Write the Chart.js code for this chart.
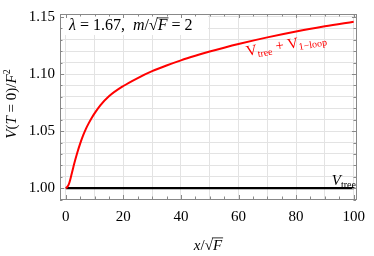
<!DOCTYPE html>
<html>
<head>
<meta charset="utf-8">
<script src="https://cdn.jsdelivr.net/npm/chart.js@4/dist/chart.umd.min.js"></script>
<style>
html,body{margin:0;padding:0;background:#fff;}
#wrap{width:374px;height:256px;}
</style>
</head>
<body>
<div id="wrap"><canvas id="c" width="374" height="256"></canvas></div>
<script>
// x / sqrt(F)
const xs = [0,0.5,1,1.5,2,2.5,3,4,5,6,7,8,9,10,12,15,20,25,30,35,40,45,50,55,60,70,80,90,100];
// V_tree + V_1-loop
const vLoop = [1.000,1.001,1.003,1.007,1.012,1.017,1.022,1.031,1.039,1.046,1.052,1.057,1.0615,1.0655,1.0725,1.0805,1.0895,1.0965,1.1025,1.1075,1.112,1.116,1.1197,1.1231,1.1263,1.1321,1.1373,1.1418,1.1458];
// V_tree
const xsTree = [0,100];
const vTree = [1.0,1.0];

const yTicks = [0.99,1.00,1.01,1.02,1.03,1.04,1.05,1.06,1.07,1.08,1.09,1.10,1.11,1.12,1.13,1.14,1.15];
const xTicks = [0,10,20,30,40,50,60,70,80,90,100];
const yLabels = [1.00,1.05,1.10,1.15];
const xLabels = [0,20,40,60,80,100];

const SERIF = '"Liberation Serif", "DejaVu Serif", serif';
const rm = '15px '+SERIF, it = 'italic 15px '+SERIF, sm = '10px '+SERIF;
const rmB = '16px '+SERIF, itB = 'italic 16px '+SERIF;

function drawRuns(ctx, parts, x, y, align){
  let w = 0;
  parts.forEach(p=>{ctx.font=p[1]; p.w=ctx.measureText(p[0]).width; w+=p.w;});
  let cx = align==='center' ? x-w/2 : (align==='right' ? x-w : x);
  ctx.textAlign='left'; ctx.textBaseline='alphabetic';
  parts.forEach(p=>{
    ctx.font=p[1];
    ctx.fillText(p[0], cx, y+(p[2]||0));
    if(p[3]){ ctx.fillRect(cx-1, y-12.5, p.w+2, 0.8); }
    cx+=p.w;
  });
}

const decor = {
  id:'decor',
  afterDraw(chart){
    const ctx=chart.ctx, a=chart.chartArea, xs_=chart.scales.x, ys_=chart.scales.y;
    ctx.save();
    // parameter box
    ctx.fillStyle='#fff';
    ctx.fillRect(a.left+1, 13, 147, 22);
    ctx.fillStyle='#000';
    drawRuns(ctx, [['λ',itB],[' = 1.67,  ',rmB],['m',itB],['/√',rmB],['F',itB,0,true],[' = 2',rmB]], a.left+9, 30, 'left');
    // frame
    ctx.strokeStyle='#888'; ctx.lineWidth=1;
    ctx.strokeRect(Math.round(a.left)+0.5, Math.round(a.top)+0.5, Math.round(a.right-a.left), Math.round(a.bottom-a.top));
    // inner ticks
    ctx.beginPath();
    for(let v=0; v<=100; v+=5){
      const px=Math.round(xs_.getPixelForValue(v))+0.5, L=(v%20===0)?4:2.5;
      ctx.moveTo(px,a.bottom); ctx.lineTo(px,a.bottom-L);
      ctx.moveTo(px,a.top); ctx.lineTo(px,a.top+L);
    }
    for(let i=99; i<=115; i++){
      const v=i/100, py=Math.round(ys_.getPixelForValue(v))+0.5, L=(i%5===0)?4:2.5;
      ctx.moveTo(a.left,py); ctx.lineTo(a.left+L,py);
      ctx.moveTo(a.right,py); ctx.lineTo(a.right-L,py);
    }
    ctx.stroke();
    // curve labels
    ctx.fillStyle='#f00';
    ctx.save();
    ctx.translate(247,56); ctx.rotate(-0.17);
    drawRuns(ctx, [['V',rm],['tree',sm,3],[' + ',rm],['V',rm],['1−loop',sm,3]], 0, 0, 'left');
    ctx.restore();
    ctx.fillStyle='#000';
    drawRuns(ctx, [['V',it],['tree',sm,3]], 356, 185, 'right');
    // axis titles
    drawRuns(ctx, [['x',it],['/√',rm],['F',it,0,true]], (a.left+a.right)/2, 250, 'center');
    ctx.save();
    ctx.translate(16,104); ctx.rotate(-Math.PI/2);
    drawRuns(ctx, [['V',it],['(',rm],['T',it],[' = 0)/',rm],['F',it],['2',sm,-6]], 0, 0, 'center');
    ctx.restore();
    ctx.restore();
  }
};

new Chart(document.getElementById('c'), {
  type:'line',
  data:{
    datasets:[
      {label:'V_tree + V_1-loop', data:xs.map((x,i)=>({x:x,y:vLoop[i]})), borderColor:'#ff0000', borderWidth:2, pointRadius:0, cubicInterpolationMode:'monotone', fill:false},
      {label:'V_tree', data:xsTree.map((x,i)=>({x:x,y:vTree[i]})), borderColor:'#000', borderWidth:2.2, pointRadius:0, fill:false}
    ]
  },
  options:{
    responsive:false, animation:false, devicePixelRatio:1,
    layout:{padding:{top:10,right:11,left:0,bottom:0}},
    plugins:{legend:{display:false}, tooltip:{enabled:false}},
    scales:{
      x:{type:'linear', min:-2, max:100.8,
        afterBuildTicks:s=>{s.ticks=xTicks.map(v=>({value:v}));},
        afterFit:s=>{s.height=57;},
        ticks:{autoSkip:false, maxRotation:0, padding:9, color:'#000', font:{family:SERIF,size:15},
          callback:v=>xLabels.includes(v)?String(v):''},
        grid:{color:'#e3e3e3', drawTicks:false}, border:{display:false}},
      y:{type:'linear', min:0.9905, max:1.1526,
        afterBuildTicks:s=>{s.ticks=yTicks.map(v=>({value:v}));},
        afterFit:s=>{s.width=60;},
        ticks:{autoSkip:false, padding:5, color:'#000', font:{family:SERIF,size:15},
          callback:v=>yLabels.some(l=>Math.abs(l-v)<1e-6)?v.toFixed(2):''},
        grid:{color:'#e3e3e3', drawTicks:false}, border:{display:false}}
    }
  },
  plugins:[decor]
});
</script>
</body>
</html>
